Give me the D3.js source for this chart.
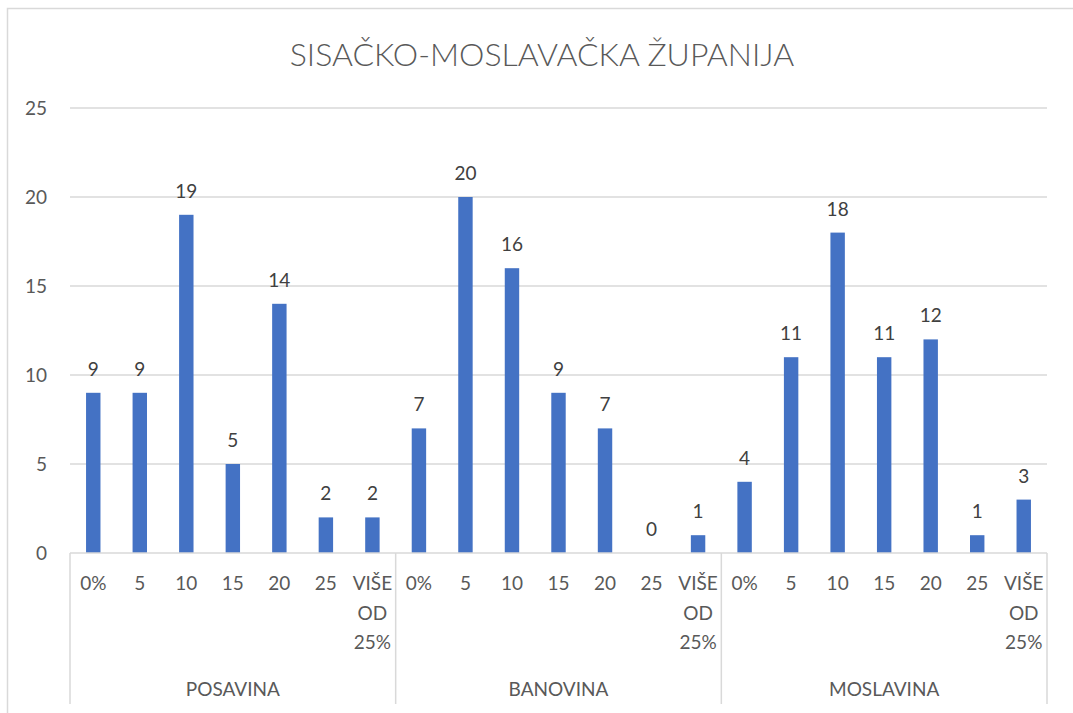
<!DOCTYPE html>
<html>
<head>
<meta charset="utf-8">
<script src="https://cdn.jsdelivr.net/npm/d3@7"></script>
<style>
  body { margin: 0; background: #fff; }
  svg text { font-family: Lato, "Open Sans", sans-serif; }
</style>
</head>
<body>
<svg width="1073" height="713"></svg>
<script>
// data
var regions = ["POSAVINA", "BANOVINA", "MOSLAVINA"];
var classes = ["0%", "5", "10", "15", "20", "25", "VIŠE OD 25%"];
var posavina = [9, 9, 19, 5, 14, 2, 2];
var banovina = [7, 20, 16, 9, 7, 0, 1];
var moslavina = [4, 11, 18, 11, 12, 1, 3];
var yTicks = [0, 5, 10, 15, 20, 25];

var series = [posavina, banovina, moslavina];
var rows = [];
regions.forEach(function (r, i) {
    classes.forEach(function (c, j) {
        rows.push({ key: r + "|" + c, region: r, cls: c, value: series[i][j] });
    });
});

var svg = d3.select("svg");
var plotLeft = 70, plotRight = 1047, plotTop = 108, plotBottom = 553;

// chart border
svg.append("rect").attr("x", 7.5).attr("y", 8.5).attr("width", 1080).attr("height", 720)
    .attr("fill", "none").attr("stroke", "#d9d9d9").attr("stroke-width", 1.5);

svg.append("text").attr("x", 542).attr("y", 66).attr("text-anchor", "middle")
    .attr("font-size", 32).attr("font-weight", 300).attr("fill", "#595959")
    .text("SISAČKO-MOSLAVAČKA ŽUPANIJA");

var x = d3.scaleBand().domain(rows.map(function (d) { return d.key; }))
    .range([plotLeft, plotRight]).paddingInner(0.69).paddingOuter(0.345);
var y = d3.scaleLinear().domain([0, 25]).range([plotBottom, plotTop]);

// grid
svg.append("g").selectAll("line").data(yTicks.slice(1)).enter().append("line")
    .attr("x1", plotLeft).attr("x2", plotRight)
    .attr("y1", function (d) { return y(d); }).attr("y2", function (d) { return y(d); })
    .attr("stroke", "#d9d9d9").attr("stroke-width", 1.3);

svg.append("g").selectAll("text").data(yTicks).enter().append("text")
    .attr("x", 47).attr("y", function (d) { return y(d) + 7; })
    .attr("text-anchor", "end").attr("font-size", 19).attr("fill", "#595959")
    .text(function (d) { return d; });

svg.append("g").selectAll("rect").data(rows).enter().append("rect")
    .attr("x", function (d) { return x(d.key); })
    .attr("y", function (d) { return y(d.value); })
    .attr("width", x.bandwidth())
    .attr("height", function (d) { return plotBottom - y(d.value); })
    .attr("fill", "#4472c4");

svg.append("g").selectAll("text").data(rows).enter().append("text")
    .attr("x", function (d) { return x(d.key) + x.bandwidth() / 2; })
    .attr("y", function (d) { return y(d.value) - 17; })
    .attr("text-anchor", "middle").attr("font-size", 19).attr("fill", "#404040")
    .text(function (d) { return d.value; });

// axis line + group separators
var step = x.step();
svg.append("line").attr("x1", plotLeft).attr("x2", plotRight).attr("y1", plotBottom).attr("y2", plotBottom)
    .attr("stroke", "#d9d9d9").attr("stroke-width", 1.5);
var seps = [0, 7, 14, 21].map(function (i) { return plotLeft + i * step; });
svg.append("g").selectAll("line").data(seps).enter().append("line")
    .attr("x1", function (d) { return d; }).attr("x2", function (d) { return d; })
    .attr("y1", plotBottom).attr("y2", 704)
    .attr("stroke", "#d9d9d9").attr("stroke-width", 1.5);

// category labels, "VIŠE OD 25%" wraps word by word
var catG = svg.append("g").selectAll("text").data(rows).enter().append("text")
    .attr("text-anchor", "middle").attr("font-size", 19).attr("fill", "#595959")
    .attr("x", function (d) { return x(d.key) + x.bandwidth() / 2; })
    .attr("y", 590);
catG.each(function (d) {
    var words = d.cls.split(" ");
    var t = d3.select(this);
    words.forEach(function (w, i) {
        t.append("tspan").attr("x", x(d.key) + x.bandwidth() / 2)
            .attr("dy", i === 0 ? 0 : 29.5).text(w);
    });
});

svg.append("g").selectAll("text").data(regions).enter().append("text")
    .attr("x", function (d, i) { return (seps[i] + seps[i + 1]) / 2; })
    .attr("y", 696).attr("text-anchor", "middle").attr("font-size", 19).attr("fill", "#595959")
    .text(function (d) { return d; });
</script>
</body>
</html>
